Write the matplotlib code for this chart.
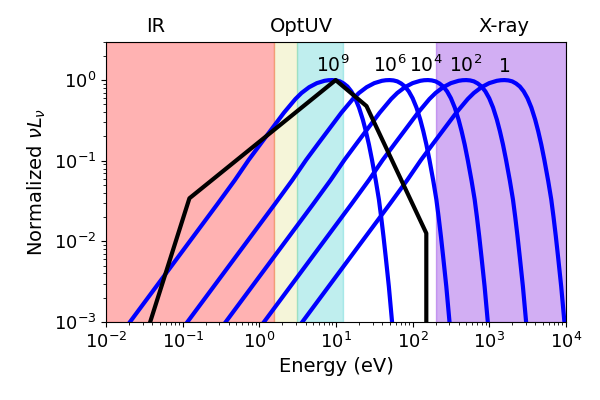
import numpy as np
import matplotlib
matplotlib.use('Agg')
import matplotlib.pyplot as plt
import matplotlib.transforms as mtransforms

# energy bands (eV)
band_lo = [0.01, 1.55, 3.1, 200.0]
band_hi = [1.55, 3.1, 12.4, 1.0e4]
band_color = ['red', 'y', 'c', 'blueviolet']
band_alpha = [0.3, 0.15, 0.25, 0.38]

band_names = ['IR', 'OptUV', 'X-ray']
band_name_x = [0.044, 3.5, 1560.0]

# disk spectra, log10 of energy (eV) for each black hole mass
log_e_1e9 = [-1.85, -1.69, -1.05, -0.55, -0.32, -0.14, 0.02, 0.17, 0.32, 0.47, 0.55, 0.65,
             0.75, 0.85, 0.90, 0.95, 1.00, 1.05, 1.10, 1.15, 1.20, 1.25, 1.30, 1.35,
             1.39, 1.43, 1.47, 1.52, 1.56, 1.59, 1.62, 1.65, 1.69, 1.73, 1.77]
log_e_1e6 = [-1.10, -0.94, -0.30, 0.20, 0.43, 0.61, 0.77, 0.92, 1.07, 1.22, 1.30, 1.40,
             1.50, 1.60, 1.65, 1.70, 1.75, 1.80, 1.85, 1.90, 1.95, 2.00, 2.05, 2.10,
             2.14, 2.18, 2.22, 2.27, 2.31, 2.34, 2.37, 2.40, 2.44, 2.48, 2.52]
log_e_1e4 = [-0.60, -0.44, 0.20, 0.70, 0.93, 1.11, 1.27, 1.42, 1.57, 1.72, 1.80, 1.90,
             2.00, 2.10, 2.15, 2.20, 2.25, 2.30, 2.35, 2.40, 2.45, 2.50, 2.55, 2.60,
             2.64, 2.68, 2.72, 2.77, 2.81, 2.84, 2.87, 2.90, 2.94, 2.98, 3.02]
log_e_1e2 = [-0.10, 0.06, 0.70, 1.20, 1.43, 1.61, 1.77, 1.92, 2.07, 2.22, 2.30, 2.40,
             2.50, 2.60, 2.65, 2.70, 2.75, 2.80, 2.85, 2.90, 2.95, 3.00, 3.05, 3.10,
             3.14, 3.18, 3.22, 3.27, 3.31, 3.34, 3.37, 3.40, 3.44, 3.48, 3.52]
log_e_1 = [0.40, 0.56, 1.20, 1.70, 1.93, 2.11, 2.27, 2.42, 2.57, 2.72, 2.80, 2.90,
           3.00, 3.10, 3.15, 3.20, 3.25, 3.30, 3.35, 3.40, 3.45, 3.50, 3.55, 3.60,
           3.64, 3.68, 3.72, 3.77, 3.81, 3.84, 3.87, 3.90, 3.94, 3.98, 4.02]
# normalized shape is the same for all of them (log10 of nuLnu)
log_disk_flux = [-3.21, -3.0, -2.18, -1.54, -1.24, -0.99, -0.785, -0.595, -0.405, -0.235, -0.16, -0.088,
                 -0.038, -0.009, -0.002, 0.0, -0.004, -0.016, -0.042, -0.08, -0.14, -0.225, -0.34, -0.49,
                 -0.635, -0.80, -0.99, -1.25, -1.48, -1.70, -1.94, -2.20, -2.56, -2.98, -3.42]

disk_curves = [log_e_1e9, log_e_1e6, log_e_1e4, log_e_1e2, log_e_1]
disk_labels = [r'$10^9$', r'$10^6$', r'$10^4$', r'$10^2$', '1']
label_x = [9.0, 50.0, 151.0, 490.0, 1590.0]
label_y = 1.25

# broken power law (black)
sed_energy = [0.0375, 0.122, 9.9, 25.0, 151.0, 151.0]
sed_flux = [1.0e-3, 0.0342, 1.0, 0.476, 0.0126, 1.0e-4]

fig = plt.figure(figsize=(6, 4), dpi=100)
ax = fig.add_axes([0.177, 0.195, 0.766, 0.701])

for lo, hi, c, a in zip(band_lo, band_hi, band_color, band_alpha):
    ax.axvspan(lo, hi, color=c, alpha=a, zorder=0)

for le in disk_curves:
    ax.plot(10 ** np.array(le), 10 ** np.array(log_disk_flux), color='blue', lw=3)

ax.plot(sed_energy, sed_flux, color='black', lw=3)

for lab, lx in zip(disk_labels, label_x):
    ax.text(lx, label_y, lab, ha='center', va='baseline', fontsize=13.5)

trans = mtransforms.blended_transform_factory(ax.transData, ax.transAxes)
for name, nx in zip(band_names, band_name_x):
    ax.text(nx, 1.035, name, transform=trans, ha='center', va='baseline', fontsize=14)

ax.set_xscale('log')
ax.set_yscale('log')
ax.set_xlim(1e-2, 1e4)
ax.set_ylim(1e-3, 3.0)
ax.set_xticks([1e-2, 1e-1, 1e0, 1e1, 1e2, 1e3, 1e4])
ax.tick_params(labelsize=13)
ax.set_xlabel('Energy (eV)', fontsize=14)
ax.set_ylabel(r'Normalized $\nu L_\nu$', fontsize=14)

fig.savefig('out.png', dpi=100)
